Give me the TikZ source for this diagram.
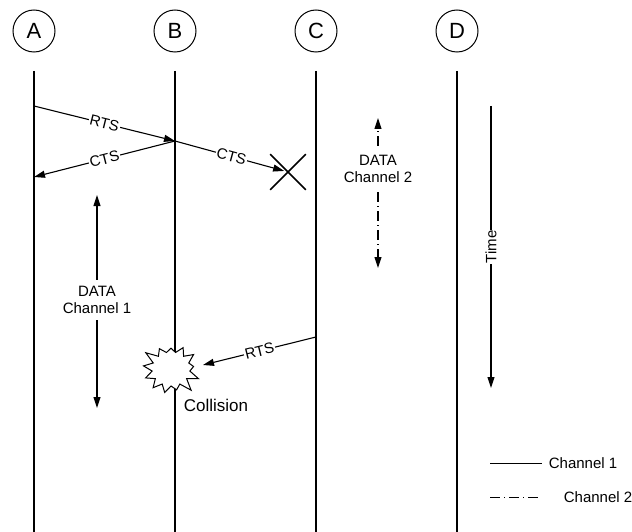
\documentclass[tikz,border=0pt]{standalone}
\usepackage{fontspec}
\setmainfont{Liberation Sans}
\usetikzlibrary{arrows.meta,shapes.misc,shapes.symbols}

\begin{document}
\begin{tikzpicture}[x=1pt,y=-1pt,line width=1pt,
		>={Triangle[length=11pt,width=7pt]},
		station/.style={draw,circle,minimum size=42pt,inner sep=0pt,font=\fontsize{22}{22}\selectfont},
		msg/.style={->,line width=1.1pt},
		lbl/.style={fill=white,inner sep=1pt,font=\fontsize{15}{17}\selectfont},
		txt/.style={font=\fontsize{15}{17}\selectfont},
		chtwo/.style={dash pattern=on 10pt off 4pt on 1pt off 4pt}]
		\useasboundingbox (0,0) rectangle (632,532);
		
		% stations and their time lines
		\foreach \n/\x in {A/34,B/175,C/316,D/457} {
			\node[station] (\n) at (\x,31) {\n};
			\coordinate (\n-top) at (\x,71);
			\coordinate (\n-end) at (\x,532);
			\draw[line width=1.1pt] (\n-top) -- (\n-end);
		}
		
		% handshake between A and B
		\coordinate (rtsA) at (34,106);
		\coordinate (rtsB) at (175,141);
		\coordinate (ctsA) at (34,177);
		\node[cross out,draw,minimum size=34pt,line width=1.6pt] (lost) at (288,172) {};
		\draw[msg] (rtsA) -- node[lbl,sloped] {RTS} (rtsB);
		\draw[msg] (rtsB) -- node[lbl,sloped] {CTS} (ctsA);
		\draw[msg,shorten >=4pt] (rtsB) -- node[lbl,sloped] {CTS} (lost.center);
		
		% data on channel 1
		\node[txt,align=center,inner ysep=6pt] (data1) at (97,300) {DATA\\Channel 1};
		\coordinate (d1top) at (97,195);
		\coordinate (d1bot) at (97,408);
		\draw[msg] (data1.north) -- (d1top);
		\draw[msg] (data1.south) -- (d1bot);
		
		% data on channel 2
		\node[txt,align=center,inner ysep=9pt] (data2) at (378,169) {DATA\\Channel 2};
		\coordinate (d2top) at (378,118);
		\coordinate (d2bot) at (378,268);
		\draw[msg,chtwo] (data2.north) -- (d2top);
		\draw[msg,chtwo] (data2.south) -- (d2bot);
		
		% C's request hits B
		\node[starburst,draw,fill=white,minimum width=62pt,minimum height=58pt,
			starburst points=13,starburst point height=12pt,random starburst=3] (boom) at (171,369) {};
		\coordinate (rtsC) at (316,337);
		\coordinate (hitB) at (203,365);
		\draw[msg] (rtsC) -- node[lbl,sloped] {RTS} (hitB);
		\node[anchor=west,font=\fontsize{17}{19}\selectfont] (coll) at (180,405) {Collision};
		
		% time axis
		\coordinate (t0) at (491,106);
		\coordinate (t1) at (491,388);
		\draw[msg] (t0) -- node[lbl,rotate=90] {Time} (t1);
		
		% legend
		\coordinate (k1a) at (490,463);
		\coordinate (k1b) at (542,463);
		\coordinate (k2a) at (490,497);
		\coordinate (k2b) at (540,497);
		\draw (k1a) -- (k1b) node[txt,anchor=west,xshift=3pt] (key1) {Channel 1};
		\draw[chtwo] (k2a) -- (k2b) node[txt,anchor=west,xshift=20pt] (key2) {Channel 2};
	\end{tikzpicture}
\end{document}
